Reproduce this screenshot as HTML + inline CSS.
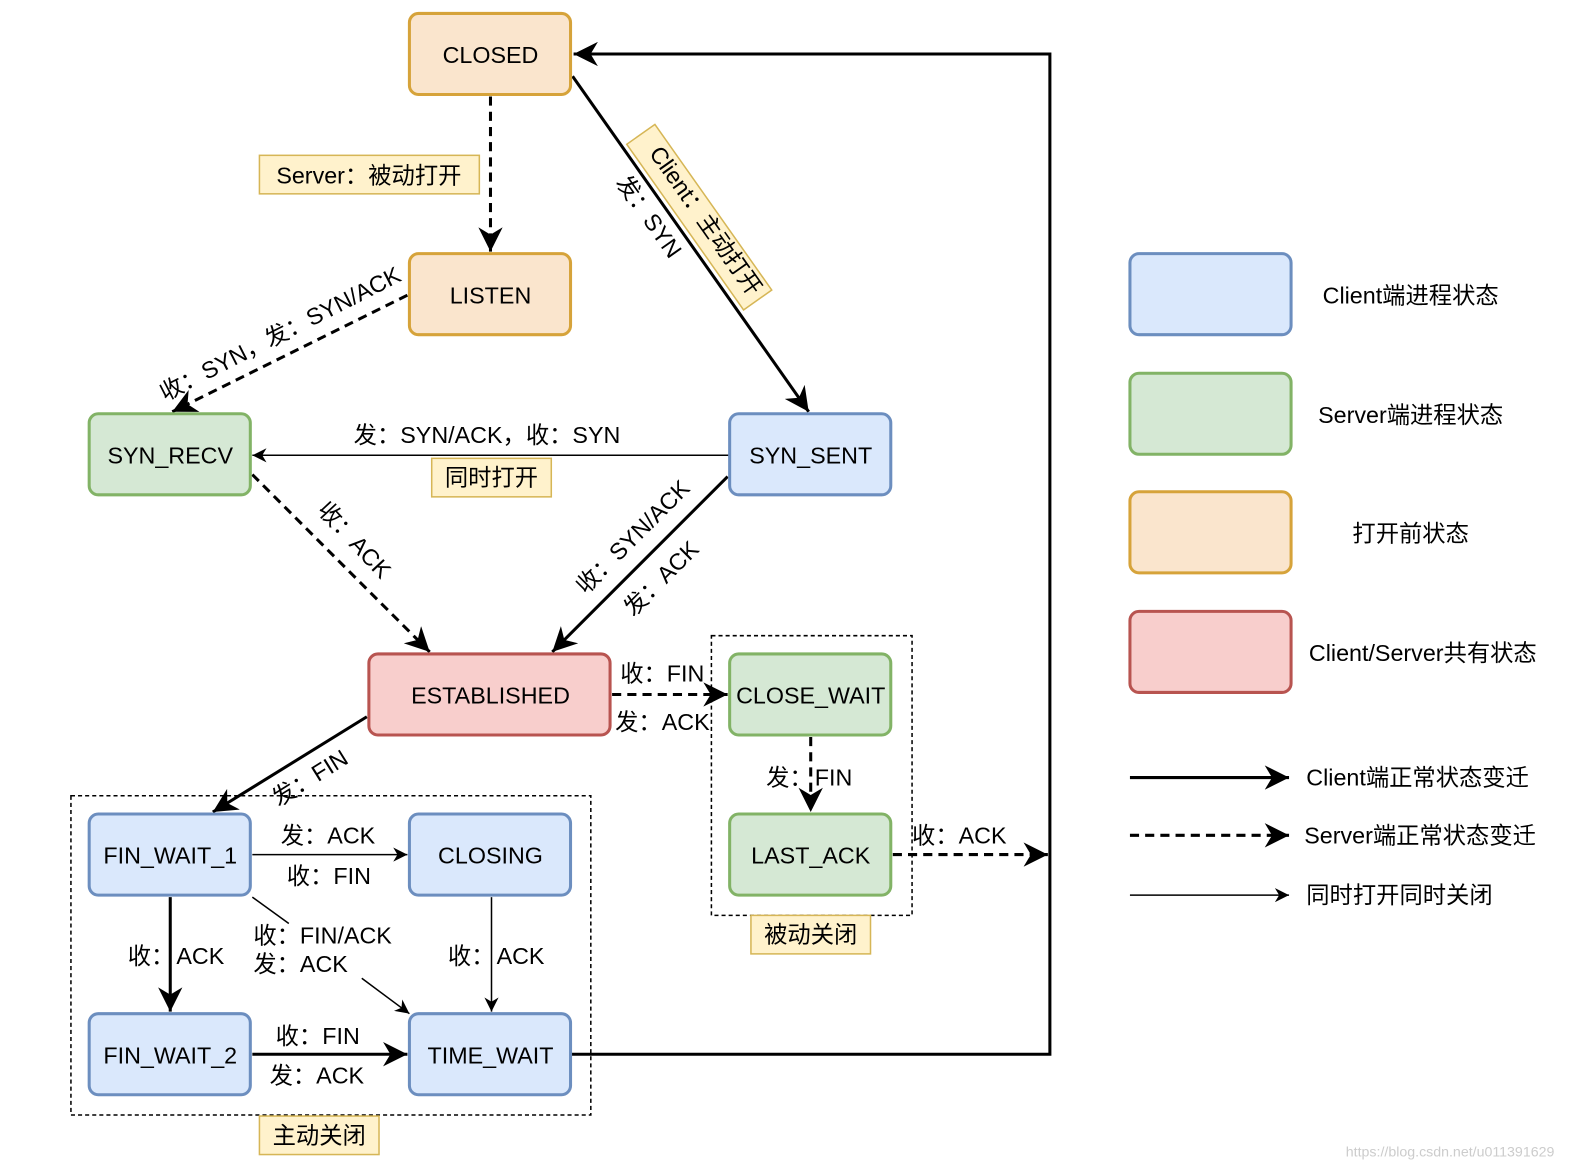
<!DOCTYPE html>
<html><head><meta charset="utf-8"><style>
html,body{margin:0;padding:0;background:#fff;}
svg{display:block;}
text{font-family:"Liberation Sans","Noto Sans CJK SC",sans-serif;font-size:23px;fill:#000;}
</style></head><body>
<svg width="1588" height="1168" viewBox="0 0 1567 1152" xmlns="http://www.w3.org/2000/svg">
<defs>
<marker id="s" viewBox="0 0 10 10" refX="10" refY="5" markerWidth="14" markerHeight="14" markerUnits="userSpaceOnUse" orient="auto">
<path d="M0,0 L10,5 L0,10 L3,5 z" fill="#000"/>
</marker>
<marker id="b" viewBox="0 0 10 10" refX="10" refY="5" markerWidth="24" markerHeight="24" markerUnits="userSpaceOnUse" orient="auto">
<path d="M0,0 L10,5 L0,10 L3,5 z" fill="#000"/>
</marker>
</defs>
<g fill="none" stroke="#000">
<rect x="70" y="785" width="513" height="315" stroke-width="1.5" stroke-dasharray="4,3"/>
<rect x="702" y="627" width="198" height="276" stroke-width="1.5" stroke-dasharray="4,3"/>
<line x1="484" y1="95" x2="484" y2="248" stroke-width="3" stroke-dasharray="9,6" marker-end="url(#b)"/>
<line x1="565" y1="75" x2="798" y2="406" stroke-width="3" marker-end="url(#b)"/>
<polyline points="563,1040 1036,1040 1036,53 566,53" stroke-width="3" marker-end="url(#b)"/>
<line x1="402" y1="291" x2="170" y2="406" stroke-width="3" stroke-dasharray="9,6" marker-end="url(#b)"/>
<line x1="720" y1="449" x2="249" y2="449" stroke-width="1.5" marker-end="url(#s)"/>
<line x1="249" y1="468" x2="424" y2="643" stroke-width="3" stroke-dasharray="9,6" marker-end="url(#b)"/>
<line x1="718" y1="470" x2="545" y2="643" stroke-width="3" marker-end="url(#b)"/>
<line x1="604" y1="685" x2="718" y2="685" stroke-width="3" stroke-dasharray="9,6" marker-end="url(#b)"/>
<line x1="800" y1="727" x2="800" y2="801" stroke-width="3" stroke-dasharray="9,6" marker-end="url(#b)"/>
<line x1="881" y1="843" x2="1034" y2="843" stroke-width="3" stroke-dasharray="9,6" marker-end="url(#b)"/>
<line x1="362" y1="707" x2="210" y2="801" stroke-width="3" marker-end="url(#b)"/>
<line x1="249" y1="843" x2="402" y2="843" stroke-width="1.5" marker-end="url(#s)"/>
<line x1="168" y1="885" x2="168" y2="998" stroke-width="3" marker-end="url(#b)"/>
<line x1="249" y1="885" x2="285" y2="911" stroke-width="1.5"/>
<line x1="357" y1="965" x2="404" y2="1000" stroke-width="1.5" marker-end="url(#s)"/>
<line x1="485" y1="885" x2="485" y2="998" stroke-width="1.5" marker-end="url(#s)"/>
<line x1="249" y1="1040" x2="402" y2="1040" stroke-width="3" marker-end="url(#b)"/>
<line x1="1115" y1="767" x2="1272" y2="767" stroke-width="3" marker-end="url(#b)"/>
<line x1="1115" y1="824" x2="1272" y2="824" stroke-width="3" stroke-dasharray="9,6" marker-end="url(#b)"/>
<line x1="1115" y1="883" x2="1272" y2="883" stroke-width="1.5" marker-end="url(#s)"/>
</g>
<g fill="#fff2cc" stroke="#d6b656" stroke-width="1.5">
<rect x="256" y="153" width="217" height="38"/>
<rect x="426" y="452" width="118" height="38"/>
<rect x="741" y="903" width="118" height="38"/>
<rect x="256" y="1101" width="118" height="38"/>
<rect x="-100" y="-17" width="200" height="34" transform="translate(690,214) rotate(54.8)"/>
</g>
<g stroke-width="3">
<g fill="#fae5cd" stroke="#d6a33a">
<rect x="404" y="13" width="159" height="80" rx="9"/>
<rect x="404" y="250" width="159" height="80" rx="9"/>
<rect x="1115" y="485" width="159" height="80" rx="9"/>
</g>
<g fill="#d5e8d4" stroke="#82b366">
<rect x="88" y="408" width="159" height="80" rx="9"/>
<rect x="720" y="645" width="159" height="80" rx="9"/>
<rect x="720" y="803" width="159" height="80" rx="9"/>
<rect x="1115" y="368" width="159" height="80" rx="9"/>
</g>
<g fill="#dae8fc" stroke="#6c8ebf">
<rect x="720" y="408" width="159" height="80" rx="9"/>
<rect x="88" y="803" width="159" height="80" rx="9"/>
<rect x="404" y="803" width="159" height="80" rx="9"/>
<rect x="88" y="1000" width="159" height="80" rx="9"/>
<rect x="404" y="1000" width="159" height="80" rx="9"/>
<rect x="1115" y="250" width="159" height="80" rx="9"/>
</g>
<g fill="#f8cecc" stroke="#b85450">
<rect x="364" y="645" width="238" height="80" rx="9"/>
<rect x="1115" y="603" width="159" height="80" rx="9"/>
</g>
</g>
<g text-anchor="middle">
<text x="484" y="62">CLOSED</text>
<text x="484" y="299">LISTEN</text>
<text x="168" y="457">SYN_RECV</text>
<text x="800" y="457">SYN_SENT</text>
<text x="484" y="694">ESTABLISHED</text>
<text x="800" y="694">CLOSE_WAIT</text>
<text x="800" y="852">LAST_ACK</text>
<text x="168" y="852">FIN_WAIT_1</text>
<text x="484" y="852">CLOSING</text>
<text x="168" y="1049">FIN_WAIT_2</text>
<text x="484" y="1049">TIME_WAIT</text>
<text x="364" y="181">Server：被动打开</text>
<text x="485" y="479">同时打开</text>
<text x="800" y="930">被动关闭</text>
<text x="315" y="1128">主动关闭</text>
<text x="1392" y="299">Client端进程状态</text>
<text x="1392" y="417">Server端进程状态</text>
<text x="1392" y="534">打开前状态</text>
<text x="1404" y="652">Client/Server共有状态</text>
</g>
<text x="1289" y="775">Client端正常状态变迁</text>
<text x="1287" y="832">Server端正常状态变迁</text>
<text x="1289" y="891">同时打开同时关闭</text>
<text x="349" y="437">发：SYN/ACK，收：SYN</text>
<text x="612" y="672">收：FIN</text>
<text x="607" y="720">发：ACK</text>
<text x="756" y="775">发：</text><text x="804" y="775">FIN</text>
<text x="900" y="832">收：ACK</text>
<text x="277" y="832">发：ACK</text>
<text x="283" y="872">收：FIN</text>
<text x="126" y="951">收：</text><text x="174" y="951">ACK</text>
<text x="250" y="931">收：FIN/ACK</text>
<text x="250" y="959">发：ACK</text>
<text x="442" y="951">收：</text><text x="490" y="951">ACK</text>
<text x="272" y="1030">收：FIN</text>
<text x="266" y="1069">发：ACK</text>
<g text-anchor="middle">
<text transform="translate(280,336) rotate(-27)">收：SYN，发：SYN/ACK</text>
<text transform="translate(344,538) rotate(47)">收：ACK</text>
<text transform="translate(630,535) rotate(-45)">收：SYN/ACK</text>
<text transform="translate(658,576) rotate(-45)">发：ACK</text>
<text transform="translate(310,774) rotate(-32)">发：FIN</text>
<text transform="translate(634,218) rotate(54.8)">发：SYN</text>
<text transform="translate(690,222) rotate(54.8)">Client：主动打开</text>
</g>
<text x="1328" y="1141" style="font-size:14px;fill:#ccc">https://blog.csdn.net/u011391629</text>
</svg>
</body></html>
